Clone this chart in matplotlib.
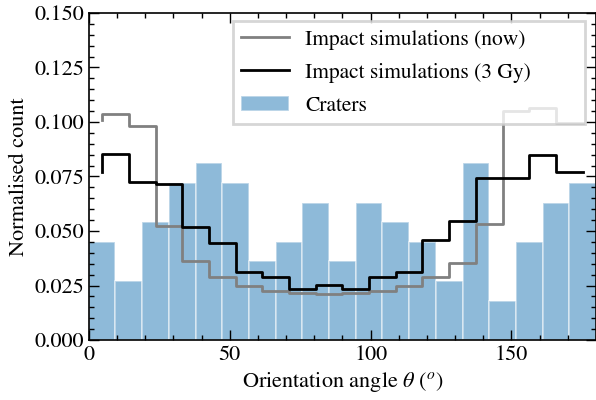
import numpy as np
import matplotlib
matplotlib.use("Agg")
import matplotlib.pyplot as plt
from matplotlib.ticker import MultipleLocator

# --- data ---
n_bins = 19
angle_min, angle_max = 0.0, 180.0
crater_counts = [5, 3, 6, 8, 9, 8, 4, 5, 7, 4, 7, 6, 5, 3, 9, 2, 5, 7, 8]
sim_now = [0.1009, 0.1037, 0.0980, 0.0523, 0.0362, 0.0290, 0.0249, 0.0226,
           0.0217, 0.0211, 0.0216, 0.0225, 0.0248, 0.0290, 0.0355, 0.0530,
           0.1050, 0.1066, 0.0994]
sim_3gy = [0.0772, 0.0853, 0.0725, 0.0714, 0.0520, 0.0444, 0.0311, 0.0288,
           0.0235, 0.0252, 0.0235, 0.0288, 0.0311, 0.0459, 0.0546, 0.0745,
           0.0745, 0.0850, 0.0771]
labels = ["Impact simulations (now)", "Impact simulations (3 Gy)", "Craters"]

plt.rcParams["font.family"] = "serif"
plt.rcParams["font.serif"] = ["STIXGeneral", "Liberation Serif", "DejaVu Serif"]
plt.rcParams["mathtext.fontset"] = "stix"
fs = 16
fs_leg = 15.5

edges = np.linspace(angle_min, angle_max, n_bins + 1)
centers = 0.5 * (edges[:-1] + edges[1:])
width = edges[1] - edges[0]
crater_norm = np.array(crater_counts) / np.sum(crater_counts)

fig = plt.figure(figsize=(5.96, 4.0), dpi=100)
ax = fig.add_axes([0.149, 0.15, 0.851, 0.8175])

ax.step(centers, sim_now, where="pre", color="grey", lw=2.0, label=labels[0])
ax.step(centers, sim_3gy, where="pre", color="black", lw=2.0, label=labels[1])
ax.bar(edges[:-1], crater_norm, width=width, align="edge", color="#1f77b4",
       alpha=0.5, edgecolor="white", linewidth=1.2, label=labels[2])

ax.set_xlim(angle_min, angle_max)
ax.set_ylim(0, 0.15)
ax.xaxis.set_major_locator(MultipleLocator(50))
ax.xaxis.set_minor_locator(MultipleLocator(10))
ax.yaxis.set_major_locator(MultipleLocator(0.025))
ax.yaxis.set_minor_locator(MultipleLocator(0.005))
ax.yaxis.set_major_formatter(matplotlib.ticker.FormatStrFormatter("%.3f"))
ax.tick_params(which="both", direction="in", top=True, right=True, labelsize=fs)
ax.tick_params(which="major", length=7, width=1)
ax.tick_params(which="minor", length=3.5, width=1)
for s in ax.spines.values():
    s.set_linewidth(1.2)

ax.set_xlabel(r"Orientation angle $\theta$ ($^o$)", fontsize=fs)
ax.set_ylabel("Normalised count", fontsize=fs)

leg = ax.legend(loc="upper right", fontsize=fs_leg, fancybox=False, framealpha=0.8,
                edgecolor="#cccccc", borderaxespad=0.0, mode="expand",
                bbox_to_anchor=(0.284, 0.0, 0.694, 0.9755),
                labelspacing=0.6, borderpad=0.4, handlelength=2.2,
                handletextpad=0.75)
leg.get_frame().set_linewidth(2.0)

fig.savefig("out.png", dpi=100)
